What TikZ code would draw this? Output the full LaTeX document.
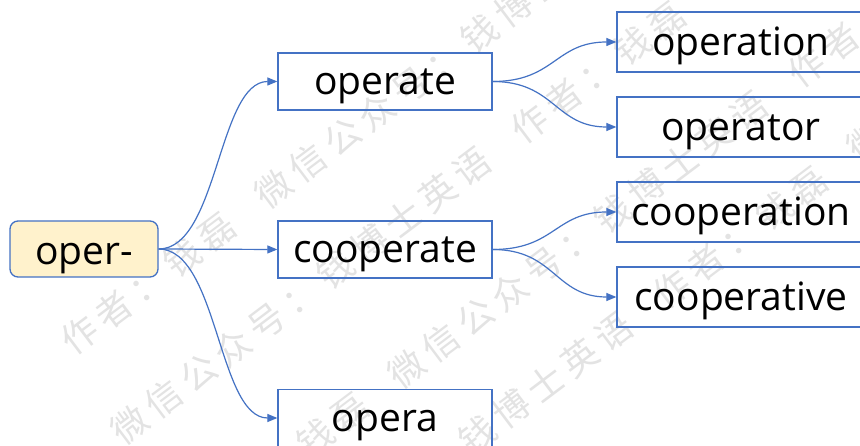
\documentclass[tikz,border=0pt]{standalone}
\usepackage{fontspec}
\setmainfont{Open Sans}
\newfontfamily\wmfont[LetterSpace=19]{Noto Sans CJK SC}
\usetikzlibrary{arrows.meta}
\definecolor{bx}{HTML}{4472C4}
\definecolor{rootfill}{HTML}{FFF2CC}
\tikzset{
  word/.style={draw=bx, line width=1.3pt, minimum width=214pt, minimum height=57pt,
    inner sep=0pt, font=\fontsize{39}{42}\selectfont, text=black,
    text height=30pt, text depth=3pt},
  leaf/.style={word, minimum width=248pt, minimum height=60pt, text height=31pt, text depth=3pt},
  rootbox/.style={word, fill=rootfill, rounded corners=8pt, minimum width=148pt, minimum height=56pt,
    text height=34pt, text depth=2pt},
  conn/.style={draw=bx, line width=1.2pt, -{Triangle[length=10pt,width=8pt]}},
  wm/.style={anchor=west, rotate=37, text=black!11, font=\wmfont\fontsize{36}{38}\selectfont, inner sep=0pt}
}
\newcommand{\wmtext}{作者：钱磊\quad 微信公众号：钱博士英语\quad 作者：钱磊\quad 微信公众号：钱博士英语\quad 作者：钱磊}
\begin{document}
\begin{tikzpicture}[x=1pt,y=-1pt]
  \useasboundingbox (0,0) rectangle (860,446);
  \clip (0,0) rectangle (860,446);
  \fill[white] (0,0) rectangle (860,446);
  % watermark
  \node[wm] (wmA) at (65,346) {\wmtext};
  \node[wm] (wmB) at (-79,582) {\wmtext};
  \node[wm] (wmC) at (198,526) {\wmtext};
  \node[wm] (wmD) at (63,747) {\wmtext};
  % nodes
  \node[rootbox] (root) at (84,249) {oper-};
  \node[word] (operate) at (385,81.5) {operate};
  \node[word] (cooperate) at (385,249.5) {cooperate};
  \node[word] (opera) at (385,418) {opera};
  \node[leaf] (operation) at (741,42) {operation};
  \node[leaf] (operator) at (741,127) {operator};
  \node[leaf] (cooperation) at (741,212) {cooperation};
  \node[leaf] (cooperative) at (741,297) {cooperative};
  % connectors
  \draw[conn] (root.east) .. controls (218,249) and (218,81.5) .. (operate.west);
  \draw[conn] (root.east) -- (cooperate.west);
  \draw[conn] (root.east) .. controls (218,249) and (218,418) .. (opera.west);
  \draw[conn] (operate.east) .. controls (555,81.5) and (555,42) .. (operation.west);
  \draw[conn] (operate.east) .. controls (555,81.5) and (555,127) .. (operator.west);
  \draw[conn] (cooperate.east) .. controls (555,249.5) and (555,212) .. (cooperation.west);
  \draw[conn] (cooperate.east) .. controls (555,249.5) and (555,297) .. (cooperative.west);
\end{tikzpicture}
\end{document}
